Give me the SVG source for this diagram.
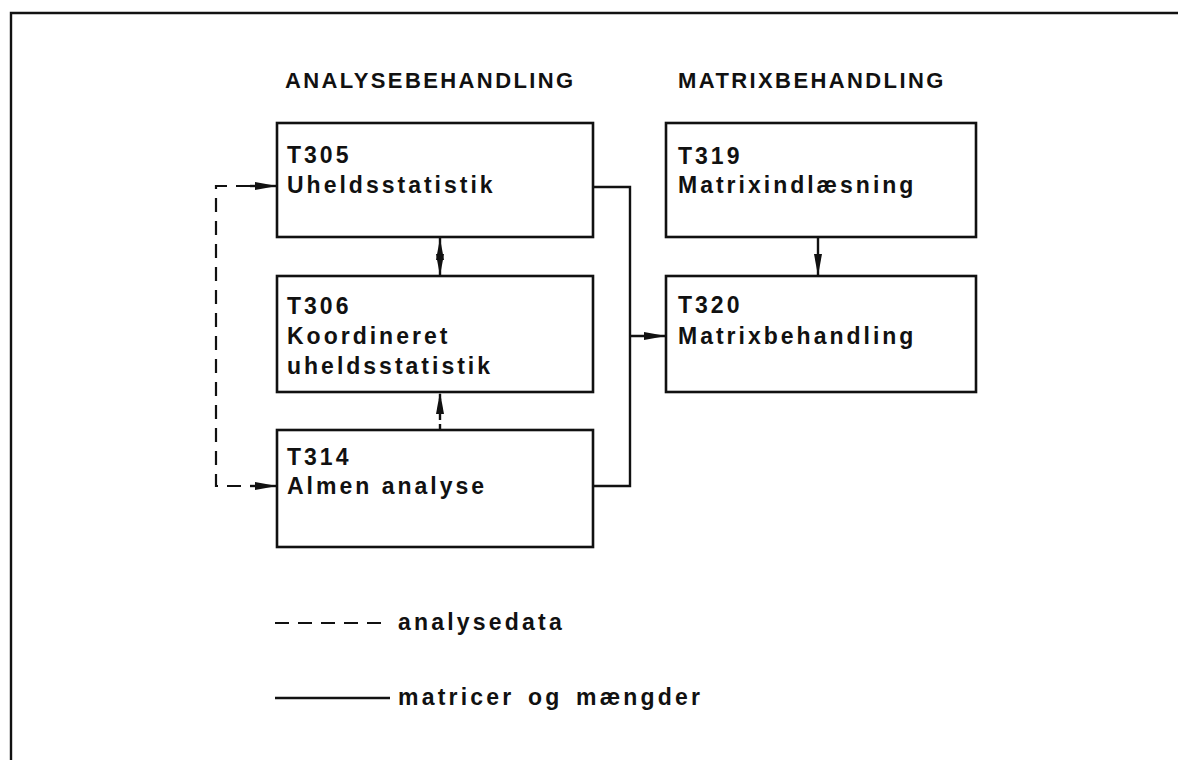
<svg xmlns="http://www.w3.org/2000/svg" width="1178" height="760" viewBox="0 0 1178 760">
  <style>
    .box { fill: none; stroke: #111; stroke-width: 2.6; }
    .ln { fill: none; stroke: #111; stroke-width: 2.4; }
    .dash { fill: none; stroke: #111; stroke-width: 2.2; stroke-dasharray: 14 9; }
    text { font-family: "Liberation Sans", Arial, sans-serif; font-weight: bold; fill: #111; }
    .hd { font-size: 22px; letter-spacing: 2.4px; }
    .lb { font-size: 23px; letter-spacing: 3px; }
    .lg { font-size: 23px; letter-spacing: 3.2px; }
  </style>
  <defs>
    <marker id="arr" viewBox="0 0 22 10" refX="22" refY="5" markerWidth="22" markerHeight="10" markerUnits="userSpaceOnUse" orient="auto">
      <path d="M0,1 L22,5 L0,9 Z" fill="#111"/>
    </marker>
    <marker id="arrS" viewBox="0 0 22 10" refX="0" refY="5" markerWidth="22" markerHeight="10" markerUnits="userSpaceOnUse" orient="auto">
      <path d="M22,1 L0,5 L22,9 Z" fill="#111"/>
    </marker>
  </defs>

  <rect width="1178" height="760" fill="#fff"/>

  <!-- frame -->
  <path class="ln" d="M11,760 L11,13 L1178,13"/>

  <!-- column headings -->
  <text class="hd" x="285" y="88">ANALYSEBEHANDLING</text>
  <text class="hd" x="678" y="88">MATRIXBEHANDLING</text>

  <g id="t305">
    <rect class="box" x="277" y="123" width="316" height="114"/>
    <text class="lb" x="287" y="163">T305</text>
    <text class="lb" x="287" y="193">Uheldsstatistik</text>
  </g>
  <g id="t306">
    <rect class="box" x="277" y="276" width="316" height="116"/>
    <text class="lb" x="287" y="314">T306</text>
    <text class="lb" x="287" y="344">Koordineret</text>
    <text class="lb" x="287" y="374">uheldsstatistik</text>
  </g>
  <g id="t314">
    <rect class="box" x="277" y="430" width="316" height="117"/>
    <text class="lb" x="287" y="465">T314</text>
    <text class="lb" x="287" y="494">Almen analyse</text>
  </g>
  <g id="t319">
    <rect class="box" x="666" y="123" width="310" height="114"/>
    <text class="lb" x="678" y="164">T319</text>
    <text class="lb" x="678" y="193">Matrixindlæsning</text>
  </g>
  <g id="t320">
    <rect class="box" x="666" y="276" width="310" height="116"/>
    <text class="lb" x="678" y="313">T320</text>
    <text class="lb" x="678" y="344">Matrixbehandling</text>
  </g>

  <g id="connectors">
    <!-- matrices to T320 -->
    <path class="ln" d="M593,187 L630,187 L630,486 L593,486"/>
    <path class="ln" d="M630,336 L666,336" marker-end="url(#arr)"/>
    <path class="ln" d="M818,237 L818,276" marker-end="url(#arr)"/>
    <!-- T305 / T306 -->
    <path class="ln" d="M440,238 L440,276" marker-start="url(#arrS)" marker-end="url(#arr)"/>
    <!-- T314 to T306 -->
    <path class="ln" d="M440,430 L440,392" stroke-dasharray="6 4" marker-end="url(#arr)"/>
    <!-- analysis data loop -->
    <path class="dash" d="M250,186 L216,186 L216,486 L250,486"/>
    <path class="ln" d="M250,186 L277,186" marker-end="url(#arr)"/>
    <path class="ln" d="M250,486 L277,486" marker-end="url(#arr)"/>
  </g>

  <g id="legend">
    <path class="dash" d="M275,623 L390,623" stroke-dasharray="12 13"/>
    <text class="lg" x="398" y="630">analysedata</text>
    <path class="ln" d="M275,698 L390,698"/>
    <text class="lg" x="398" y="705" style="word-spacing:4px">matricer og mængder</text>
  </g>
</svg>
